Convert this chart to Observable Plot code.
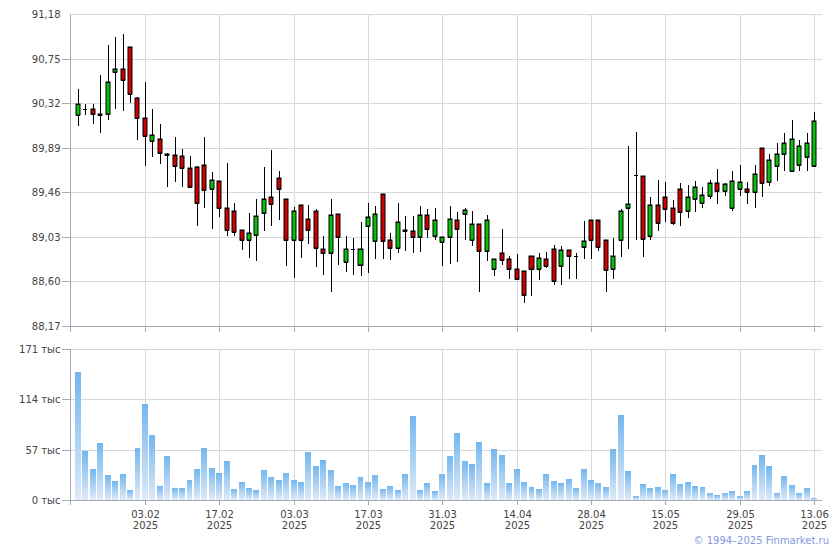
<!DOCTYPE html>
<html><head><meta charset="utf-8">
<script src="https://cdn.jsdelivr.net/npm/d3@7"></script>
<script src="https://cdn.jsdelivr.net/npm/@observablehq/plot@0.6"></script>
<style>
body{margin:0;background:#fff;}
#wrap{position:relative;width:840px;height:550px;font-family:"DejaVu Sans",sans-serif;overflow:hidden;}
#wrap svg{position:absolute;left:0;}
#copy{position:absolute;right:11px;top:535px;font-size:10px;line-height:12px;color:#8597e0;font-family:"DejaVu Sans",sans-serif;}
</style></head><body><div id="wrap"></div>
<script>
const dates = ["21.01","22.01","23.01","24.01","27.01","28.01","29.01","30.01","31.01",
"03.02","04.02","05.02","06.02","07.02","10.02","11.02","12.02","13.02","14.02","17.02","18.02","19.02","20.02","21.02","24.02","25.02","26.02","27.02","28.02",
"03.03","04.03","05.03","06.03","07.03","10.03","11.03","12.03","13.03","14.03","17.03","18.03","19.03","20.03","21.03","24.03","25.03","26.03","27.03","28.03","31.03",
"01.04","02.04","03.04","04.04","07.04","08.04","09.04","10.04","11.04","14.04","15.04","16.04","17.04","18.04","21.04","22.04","23.04","24.04","25.04","28.04","29.04","30.04",
"02.05","05.05","06.05","07.05","12.05","13.05","14.05","15.05","16.05","19.05","20.05","21.05","22.05","23.05","26.05","27.05","28.05","29.05","30.05",
"02.06","03.06","04.06","05.06","06.06","09.06","10.06","11.06","13.06"];

const open = [90.21,90.26,90.26,90.22,90.22,90.62,90.65,90.86,90.37,90.18,
89.95,89.97,89.83,89.82,89.81,89.69,89.70,89.72,89.49,89.57,
89.31,89.28,89.10,89.00,89.05,89.26,89.41,89.60,89.40,89.00,
89.34,89.20,89.28,88.91,88.87,89.25,88.79,88.91,88.76,89.13,
88.99,89.44,89.00,88.92,89.10,89.09,89.03,89.24,89.04,88.98,
89.03,89.19,89.25,89.00,89.15,88.89,88.72,88.87,88.82,88.72,
88.70,88.85,88.72,88.82,88.91,88.75,88.90,88.85,88.93,89.19,
89.19,89.00,88.72,89.00,89.31,89.63,89.62,89.04,89.34,89.41,
89.31,89.49,89.28,89.40,89.36,89.42,89.55,89.47,89.31,89.49,
89.49,89.46,89.89,89.56,89.71,89.83,89.67,89.72,89.80,89.71];
const high = [90.46,90.31,90.31,90.59,90.88,90.96,90.99,90.86,90.38,90.52,
90.26,90.12,89.84,89.99,89.88,89.81,89.71,89.99,89.66,89.57,
89.74,89.36,89.10,89.26,89.40,89.70,89.87,89.67,89.40,89.32,
89.34,89.34,89.30,89.04,89.40,89.25,89.04,89.02,89.17,89.36,
89.33,89.44,89.07,89.36,89.23,89.23,89.33,89.30,89.31,89.03,
89.33,89.27,89.31,89.28,89.15,89.24,88.82,89.11,88.85,88.86,
88.70,88.85,88.87,88.88,88.95,88.94,88.90,88.87,89.18,89.19,
89.19,89.00,89.02,89.30,89.91,90.04,89.62,89.41,89.58,89.56,
89.39,89.55,89.53,89.57,89.51,89.58,89.68,89.55,89.67,89.72,
89.56,89.72,89.89,89.83,89.94,90.03,90.16,89.96,90.03,90.23];
const low = [90.10,90.21,90.12,90.03,90.16,90.26,90.24,90.32,89.96,89.71,
89.80,89.73,89.51,89.56,89.51,89.51,89.13,89.31,89.11,89.22,
89.04,89.04,88.90,88.83,88.80,89.09,89.13,89.19,88.75,88.63,
88.83,88.96,88.74,88.66,88.50,88.76,88.69,88.66,88.65,88.68,
88.82,88.82,88.81,88.87,88.89,88.87,88.88,89.02,89.00,88.75,
88.77,88.79,89.00,88.94,88.50,88.80,88.65,88.76,88.62,88.61,
88.39,88.46,88.61,88.73,88.57,88.57,88.62,88.62,88.82,88.82,
88.89,88.50,88.62,88.84,88.91,89.00,88.84,89.00,89.09,89.17,
89.14,89.13,89.21,89.27,89.31,89.40,89.35,89.42,89.28,89.42,
89.35,89.31,89.41,89.52,89.57,89.67,89.67,89.67,89.67,89.71];
const close = [90.31,90.26,90.22,90.21,90.52,90.65,90.54,90.41,90.18,90.00,
90.01,89.84,89.82,89.71,89.69,89.51,89.36,89.48,89.58,89.31,
89.10,89.08,89.00,89.07,89.23,89.40,89.35,89.49,89.00,89.28,
89.00,89.10,88.92,88.87,89.24,89.03,88.91,88.91,88.91,89.22,
89.25,88.99,88.92,89.17,89.09,89.03,89.24,89.11,89.19,89.03,
89.20,89.11,89.29,89.15,88.89,89.19,88.82,88.81,88.72,88.62,
88.47,88.72,88.83,88.75,88.60,88.90,88.85,88.85,88.99,89.00,
88.93,88.71,88.85,89.28,89.35,89.63,89.01,89.34,89.16,89.30,
89.16,89.27,89.41,89.51,89.43,89.55,89.47,89.54,89.57,89.56,
89.46,89.64,89.55,89.77,89.83,89.94,89.97,89.91,89.94,90.15];
const volume = [145.5,55.3,35.0,64.3,28.2,21.4,29.3,11.3,58.7,108.3,
73.3,15.8,49.6,13.5,13.5,22.6,35.0,58.7,36.1,30.5,
44.0,12.4,20.3,13.5,11.3,33.8,25.9,22.6,30.5,22.6,
20.3,54.1,38.4,45.1,33.8,15.8,19.2,16.9,25.9,20.3,
28.2,12.4,15.8,11.3,29.3,94.8,11.3,19.2,10.2,29.3,
49.6,75.6,44.0,40.6,65.4,19.2,57.5,50.8,19.2,35.0,
20.3,14.7,12.4,29.3,21.4,19.2,23.7,13.5,35.0,22.6,
19.2,14.7,57.5,95.9,32.7,4.5,18.0,13.5,14.7,11.3,
29.3,18.0,20.3,15.8,14.7,7.9,5.6,7.9,10.2,4.5,
10.2,39.5,50.8,38.4,7.9,27.1,16.9,7.9,13.5,2.3];

const tickDates = ["03.02","17.02","03.03","17.03","31.03","14.04","28.04","15.05","29.05","13.06"];
const yearLabel = "2025";
const priceTicks = [88.17,88.60,89.03,89.46,89.89,90.32,90.75,91.18];
const volumeTicks = [0,57,114,171];
const volumeUnit = "тыс";
const copyright = "© 1994–2025 Finmarket.ru";

const data = dates.map((date, i) => ({i, date, open: open[i], high: high[i], low: low[i], close: close[i], volume: volume[i]}));
const tickIdx = tickDates.map(d => dates.indexOf(d));
const xDomain = [-1.076, dates.length + 0.076];

const gridC = "#d5d9de", axisC = "#a6aab6", textC = "#444";
const upC = "#08c008", downC = "#cc0000";
const style = {fontFamily: "DejaVu Sans, sans-serif", fontSize: "10px", color: textC, background: "transparent", overflow: "visible"};
const fmtPrice = v => v.toFixed(2).replace(".", ",");
const half = 0.27;

const price = Plot.plot({
  width: 840, height: 334, marginTop: 14, marginBottom: 8, marginLeft: 70, marginRight: 18,
  style,
  x: {type: "linear", domain: xDomain, round: true},
  y: {domain: [priceTicks[0], priceTicks[priceTicks.length - 1]], round: true},
  marks: [
    Plot.ruleY(priceTicks, {stroke: gridC}),
    Plot.ruleX(tickIdx, {stroke: gridC}),
    Plot.ruleY([priceTicks[0]], {stroke: axisC}),
    Plot.ruleX([xDomain[0]], {stroke: axisC, insetBottom: -6}),
    Plot.axisX(tickIdx, {tickSize: 6, tickFormat: () => "", stroke: axisC, label: null}),
    Plot.axisY(priceTicks.slice(0, -1), {tickSize: 8, tickFormat: () => "", stroke: axisC, label: null}),
    Plot.axisY(priceTicks, {tickSize: 0, tickPadding: 10, tickFormat: fmtPrice, label: null}),
    Plot.ruleX(data, {x: "i", y1: "low", y2: "high", stroke: "#000", strokeWidth: 1}),
    Plot.rect(data, {x1: d => d.i - half, x2: d => d.i + half, y1: "open", y2: "close",
      fill: d => d.close >= d.open ? upC : downC, stroke: "#000", strokeWidth: 1}),
    Plot.ruleY(data, {y: "open", x1: d => d.i - half, x2: d => d.i + half, stroke: "#000"}),
    Plot.ruleY(data, {y: "close", x1: d => d.i - half, x2: d => d.i + half, stroke: "#000"})
  ]
});
price.style.top = "0px";

const gradDefs = () => {
  const defs = document.createElementNS("http://www.w3.org/2000/svg", "defs");
  defs.innerHTML = '<linearGradient id="volGrad" x1="0" y1="0" x2="0" y2="1">' +
    '<stop offset="0" stop-color="#73b7ef"/><stop offset="1" stop-color="#dfeaf8"/></linearGradient>';
  return defs;
};

const vol = Plot.plot({
  width: 840, height: 202, marginTop: 15, marginBottom: 36, marginLeft: 70, marginRight: 18,
  style,
  x: {type: "linear", domain: xDomain, round: true},
  y: {domain: [volumeTicks[0], volumeTicks[volumeTicks.length - 1]], round: true},
  marks: [
    gradDefs,
    Plot.ruleY(volumeTicks, {stroke: gridC}),
    Plot.ruleX(tickIdx, {stroke: gridC}),
    Plot.rectY(data, {x1: d => d.i - 0.4, x2: d => d.i + 0.4, y: "volume", fill: "url(#volGrad)"}),
    Plot.ruleY([0], {stroke: axisC}),
    Plot.ruleX([xDomain[0]], {stroke: axisC, insetBottom: -5}),
    Plot.axisX(tickIdx, {tickSize: 5, tickPadding: 4, stroke: axisC, label: null, lineHeight: 1.15,
      tickFormat: i => dates[i] + "\n" + yearLabel}),
    Plot.axisY(volumeTicks, {tickSize: 8, tickPadding: 2, stroke: axisC, label: null,
      tickFormat: v => v + " " + volumeUnit})
  ]
});
vol.style.top = "334px";

const wrap = document.getElementById("wrap");
wrap.append(price, vol);
const cp = document.createElement("div");
cp.id = "copy";
cp.textContent = copyright;
wrap.append(cp);
</script></body></html>
